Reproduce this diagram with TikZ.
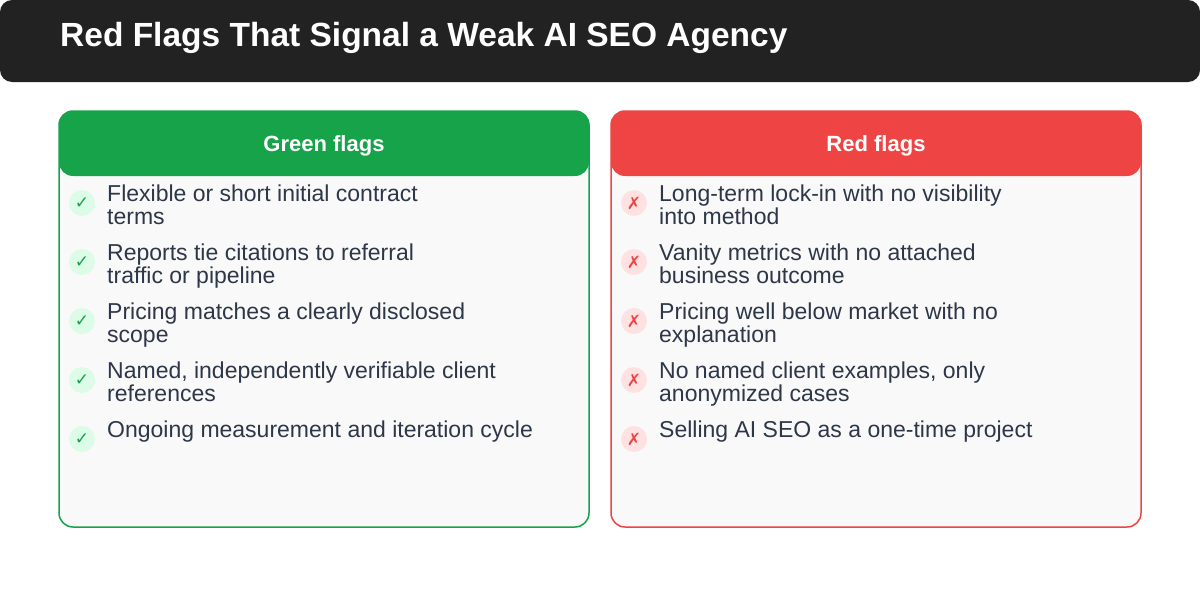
\documentclass[tikz,border=0pt]{standalone}
\usepackage{fontspec}
\setmainfont{Liberation Sans}
\newfontfamily\sym{DejaVu Sans}
\definecolor{dark}{HTML}{222222}
\definecolor{gr}{HTML}{16A34A}
\definecolor{grl}{HTML}{DCFCE7}
\definecolor{rd}{HTML}{EF4444}
\definecolor{rdl}{HTML}{FEE2E2}
\definecolor{txt}{HTML}{2D3748}
\definecolor{pan}{HTML}{F9F9F9}
\begin{document}
\begin{tikzpicture}[x=1pt,y=-1pt,
 item/.style={anchor=north west,align=left,text=txt,font=\fontsize{23}{23}\selectfont,inner sep=0pt},
 gicon/.style={circle,fill=grl,minimum size=26pt,inner sep=0pt,text=gr,font=\sym\bfseries\fontsize{17}{17}\selectfont},
 ricon/.style={circle,fill=rdl,minimum size=26pt,inner sep=0pt,text=rd,font=\sym\bfseries\fontsize{17}{17}\selectfont},
 head/.style={text=white,font=\bfseries\fontsize{22}{24}\selectfont}]
\useasboundingbox (0,0) rectangle (1200,597);
\fill[white] (0,0) rectangle (1200,597);
\fill[dark,rounded corners=12pt] (0,0) rectangle (1200,82);
\node[anchor=west,text=white,font=\bfseries\fontsize{33.5}{35}\selectfont,inner sep=0pt] (title) at (60,38) {Red Flags That Signal a Weak AI SEO Agency};
% left
\draw[gr,fill=pan,line width=1.5pt,rounded corners=14pt] (59,111) rectangle (589,527);
\fill[gr,rounded corners=14pt] (59,111) rectangle (589,176);
\node[head] (gh) at (324,146) {Green flags};
% right
\draw[rd,fill=pan,line width=1.5pt,rounded corners=14pt] (611,111) rectangle (1141,527);
\fill[rd,rounded corners=14pt] (611,111) rectangle (1141,176);
\node[head] (rh) at (876,146) {Red flags};
\foreach \i/\y/\t in {1/196/{Flexible or short initial contract\\terms},2/255/{Reports tie citations to referral\\traffic or pipeline},3/314/{Pricing matches a clearly disclosed\\scope},4/373/{Named, independently verifiable client\\references},5/432/{Ongoing measurement and iteration cycle}}{
 \node[gicon] (g\i) at (82,\y+7) {✓};
 \node[item] (gt\i) at (107,\y-11) {\t};
}
\foreach \i/\y/\t in {1/196/{Long-term lock-in with no visibility\\into method},2/255/{Vanity metrics with no attached\\business outcome},3/314/{Pricing well below market with no\\explanation},4/373/{No named client examples, only\\anonymized cases},5/432/{Selling AI SEO as a one-time project}}{
 \node[ricon] (r\i) at (634,\y+7) {✗};
 \node[item] (rt\i) at (659,\y-11) {\t};
}
\end{tikzpicture}
\end{document}
